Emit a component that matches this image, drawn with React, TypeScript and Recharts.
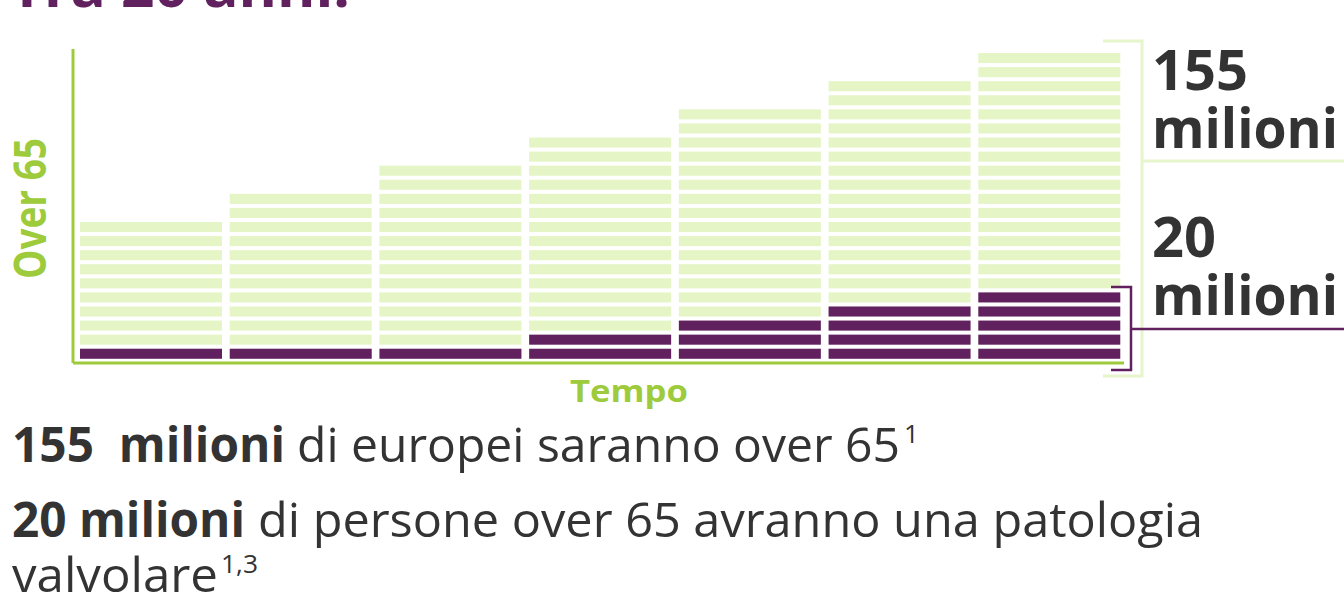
import React from 'react';
import { BarChart, Bar, XAxis, YAxis } from 'recharts';

const categories = ['1', '2', '3', '4', '5', '6', '7'];
const totalUnits = [10, 12, 14, 16, 18, 20, 22];
const purpleUnits = [1, 1, 1, 2, 3, 4, 5];

const PURPLE = '#61215f';
const PALE = '#e5f5c6';
const GREEN = '#9dcb3c';
const BRACKET_GREEN = '#e6f5cb';
const DARK = '#333333';
const FONT = "'Open Sans', 'Noto Sans', sans-serif";

const data = categories.map((c, i) => ({
  cat: c,
  purple: purpleUnits[i],
  green: totalUnits[i] - purpleUnits[i],
}));

const makeStripes = (key: string, color: string) => (props: any) => {
  const { x, y, width, height, payload } = props;
  const n = payload[key];
  if (!n || !height) return <g />;
  const pitch = height / n;
  const gap = (pitch * 4) / 14;
  const rects = [];
  for (let i = 0; i < n; i++) {
    rects.push(
      <rect key={i} x={x} y={y + i * pitch + gap} width={width} height={pitch - gap} fill={color} />
    );
  }
  return <g>{rects}</g>;
};

export default function App() {
  return (
    <div style={{ position: 'absolute', left: 0, top: 0, width: 1344, height: 594, background: '#fff', overflow: 'hidden' }}>
      <BarChart
        width={1344}
        height={594}
        data={data}
        margin={{ top: 49, left: 72, right: 220, bottom: 230 }}
        barCategoryGap={4}
      >
        <XAxis
          dataKey="cat"
          height={1}
          tick={false}
          tickLine={false}
          padding={{ left: 3, right: 0 }}
          axisLine={{ stroke: GREEN, strokeWidth: 3 }}
        />
        <YAxis
          width={1}
          domain={[-0.3, 22]}
          allowDataOverflow
          tick={false}
          tickLine={false}
          axisLine={{ stroke: GREEN, strokeWidth: 3 }}
        />
        <Bar dataKey="purple" stackId="a" isAnimationActive={false} shape={makeStripes('purple', PURPLE)} />
        <Bar dataKey="green" stackId="a" isAnimationActive={false} shape={makeStripes('green', PALE)} />
      </BarChart>
      <svg
        width={1344}
        height={594}
        style={{ position: 'absolute', left: 0, top: 0, pointerEvents: 'none' }}
        fontFamily={FONT}
      >
        <text x={10} y={7} fontSize={56} fontWeight={700} fill={PURPLE} textLength={340} lengthAdjust="spacingAndGlyphs">
          Tra 20 anni.
        </text>

        {/* green bracket */}
        <polyline points="1103,41 1142,41 1142,376 1103,376" fill="none" stroke={BRACKET_GREEN} strokeWidth={3} />
        <line x1={1142} y1={161} x2={1344} y2={161} stroke={BRACKET_GREEN} strokeWidth={3} />
        {/* purple bracket */}
        <polyline points="1111,287 1131,287 1131,370 1111,370" fill="none" stroke={PURPLE} strokeWidth={2.5} />
        <line x1={1131} y1={329} x2={1344} y2={329} stroke={PURPLE} strokeWidth={2.5} />

        <text x={1152} y={90} fontSize={56} fontWeight={700} fill={DARK} textLength={96} lengthAdjust="spacingAndGlyphs">155</text>
        <text x={1152} y={148} fontSize={56} fontWeight={700} fill={DARK} textLength={186} lengthAdjust="spacingAndGlyphs">milioni</text>
        <text x={1152} y={257} fontSize={56} fontWeight={700} fill={DARK} textLength={64} lengthAdjust="spacingAndGlyphs">20</text>
        <text x={1152} y={315} fontSize={56} fontWeight={700} fill={DARK} textLength={186} lengthAdjust="spacingAndGlyphs">milioni</text>

        <text x={570} y={402} fontSize={31} fontWeight={700} fill={GREEN} textLength={118} lengthAdjust="spacingAndGlyphs">Tempo</text>
        <text
          x={0}
          y={0}
          transform="translate(46,279) rotate(-90)"
          fontSize={44}
          fontWeight={700}
          fill={GREEN}
          textLength={141}
          lengthAdjust="spacingAndGlyphs"
        >
          Over 65
        </text>

        <text x={12} y={462} fontSize={48} fontWeight={700} fill={DARK} textLength={273} lengthAdjust="spacingAndGlyphs" style={{ whiteSpace: 'pre' }}>155  milioni</text>
        <text x={297} y={462} fontSize={48} fill={DARK} textLength={603} lengthAdjust="spacingAndGlyphs">di europei saranno over 65</text>
        <text x={904} y={443} fontSize={26} fill={DARK}>1</text>

        <text x={12} y={537} fontSize={48} fontWeight={700} fill={DARK} textLength={233} lengthAdjust="spacingAndGlyphs">20 milioni</text>
        <text x={258} y={537} fontSize={48} fill={DARK} textLength={945} lengthAdjust="spacingAndGlyphs">di persone over 65 avranno una patologia</text>

        <text x={12} y={592} fontSize={48} fill={DARK} textLength={206} lengthAdjust="spacingAndGlyphs">valvolare</text>
        <text x={221} y={573} fontSize={26} fill={DARK} textLength={37} lengthAdjust="spacingAndGlyphs">1,3</text>
      </svg>
    </div>
  );
}
